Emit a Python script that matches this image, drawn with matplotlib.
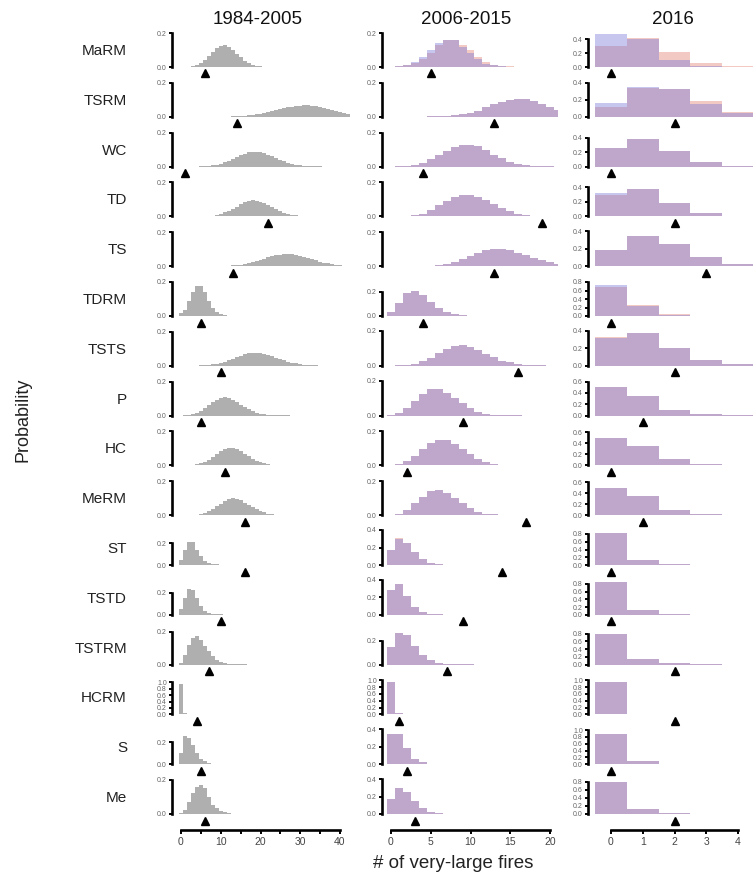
import numpy as np
import matplotlib
matplotlib.use('Agg')
import matplotlib.pyplot as plt

plt.rcParams['font.family'] = ['Liberation Sans', 'DejaVu Sans']

# ---------------- data ----------------
regions = ['MaRM', 'TSRM', 'WC', 'TD', 'TS', 'TDRM', 'TSTS', 'P', 'HC', 'MeRM',
           'ST', 'TSTD', 'TSTRM', 'HCRM', 'S', 'Me']
periods = ['1984-2005', '2006-2015', '2016']

# 1984-2005: first bin of each list, then probabilities per count
start_1984 = [2, 12, 5, 6, 9, 0, 4, 1, 2, 2, 0, 0, 0, 0, 0, 0]
hist_1984 = [
    [.002, .005, .012, .024, .042, .065, .09, .112, .126, .128, .118, .1, .078, .057, .038, .024, .014, .008, .004, .002, .001],
    [.001, .002, .003, .004, .006, .008, .011, .014, .018, .023, .028, .033, .039, .045, .05, .055, .06, .064, .066, .067, .067, .065, .062, .058, .053, .045, .039, .032, .026, .02, .015],
    [.001, .002, .004, .007, .011, .017, .025, .034, .044, .055, .066, .076, .084, .088, .088, .085, .079, .07, .06, .05, .04, .031, .023, .017, .012, .008, .005, .003, .002, .002, .001],
    [.001, .003, .005, .009, .015, .023, .033, .045, .058, .071, .082, .09, .094, .093, .087, .078, .066, .053, .041, .03, .021, .014, .009, .006, .003, .002, .001],
    [.001, .001, .002, .003, .005, .007, .01, .014, .019, .025, .031, .038, .045, .052, .058, .063, .067, .07, .07, .069, .066, .061, .055, .048, .041, .034, .027, .021, .016, .012, .008, .006, .004, .003],
    [.015, .035, .09, .14, .175, .175, .14, .09, .045, .025, .01, .005, .002, .001],
    [.001, .002, .003, .005, .008, .012, .017, .024, .032, .041, .05, .059, .067, .073, .077, .078, .076, .071, .065, .057, .048, .04, .032, .025, .019, .014, .01, .007, .005, .003, .002, .001, .001, .001, .001, .001, .001],
    [.002, .004, .009, .017, .028, .043, .06, .078, .094, .105, .108, .104, .094, .08, .064, .049, .036, .025, .017, .011, .007, .004, .003, .002, .001, .001, .001],
    [.001, .003, .006, .012, .021, .033, .049, .066, .083, .097, .104, .103, .096, .083, .068, .053, .039, .027, .018, .012, .007, .004, .003, .002, .001, .001, .001],
    [.001, .002, .004, .008, .014, .024, .037, .052, .068, .083, .094, .099, .096, .087, .074, .06, .046, .034, .024, .016, .01, .006, .004, .002, .001, .001, .001, .001],
    [.05, .14, .21, .21, .14, .08, .04, .02, .01, .005, .003, .001],
    [.05, .155, .23, .225, .155, .08, .036, .02, .01, .005, .003, .001],
    [.01, .06, .12, .16, .176, .15, .11, .08, .05, .03, .016, .008, .004, .002, .001, .001, .001],
    [.96, .035, .004],
    [.1, .26, .24, .17, .1, .05, .025, .012, .006, .003, .001],
    [.006, .024, .072, .122, .157, .17, .151, .102, .053, .033, .018, .009, .005, .002, .001, .001],
]

# 2006-2015: counts start at 0
hist_2006_blue = [
    [.002, .004, .012, .03, .06, .1, .14, .16, .16, .12, .08, .045, .02, .01, .004, .002, .001],
    [0, 0, 0, 0, .001, .002, .003, .005, .009, .014, .021, .035, .055, .073, .088, .1, .107, .105, .094, .075, .06, .042],
    [0, .002, .004, .012, .024, .045, .07, .094, .114, .125, .13, .12, .095, .07, .048, .028, .015, .008, .004, .002, .001],
    [0, 0, .001, .006, .016, .035, .065, .088, .114, .124, .127, .114, .094, .07, .05, .031, .016, .008, .004, .002, .001],
    [0, 0, 0, 0, .001, .003, .006, .013, .025, .04, .058, .078, .093, .1, .1, .093, .08, .065, .05, .035, .022, .012],
    [.03, .11, .19, .21, .175, .12, .07, .036, .017, .008, .004, .002],
    [0, .002, .004, .008, .025, .044, .072, .097, .114, .12, .11, .091, .069, .048, .03, .019, .011, .006, .003, .002, .001],
    [.004, .015, .042, .086, .124, .15, .15, .128, .099, .07, .042, .023, .011, .006, .003, .002, .001],
    [.002, .008, .025, .055, .095, .13, .15, .15, .125, .095, .065, .04, .022, .011, .005, .002, .001],
    [0, .005, .03, .07, .11, .145, .15, .13, .1, .07, .04, .02, .008, .005, .002, .001],
    [.175, .3, .25, .145, .065, .027, .011, .005, .002],
    [.286, .35, .21, .088, .03, .01, .004, .002],
    [.147, .264, .245, .155, .078, .036, .017, .007, .003, .002, .001],
    [.96, .035, .004],
    [.35, .35, .18, .057, .02, .007, .003, .001],
    [.168, .293, .255, .152, .065, .025, .01, .004, .002, .001],
]
hist_2006_red = [
    [.001, .003, .01, .025, .05, .08, .13, .16, .16, .13, .1, .06, .03, .013, .006, .003, .001],
    [0, 0, 0, 0, .001, .002, .003, .005, .009, .014, .021, .035, .055, .073, .088, .1, .107, .105, .094, .075, .06, .042],
    [0, .002, .004, .012, .024, .045, .07, .094, .114, .125, .13, .12, .095, .07, .048, .028, .015, .008, .004, .002, .001],
    [0, 0, .001, .006, .016, .035, .065, .088, .114, .124, .127, .114, .094, .07, .05, .031, .016, .008, .004, .002, .001],
    [0, 0, 0, 0, .001, .003, .006, .013, .025, .04, .058, .078, .093, .1, .1, .093, .08, .065, .05, .035, .022, .012],
    [.03, .105, .19, .21, .175, .12, .07, .036, .017, .008, .004, .002],
    [0, .002, .004, .008, .025, .044, .072, .097, .114, .12, .11, .091, .069, .048, .03, .019, .011, .006, .003, .002, .001],
    [.004, .015, .042, .086, .124, .15, .15, .128, .099, .07, .042, .023, .011, .006, .003, .002, .001],
    [.002, .008, .025, .055, .095, .13, .15, .15, .125, .095, .065, .04, .022, .011, .005, .002, .001],
    [0, .005, .03, .07, .11, .145, .15, .13, .1, .07, .04, .02, .008, .005, .002, .001],
    [.17, .31, .25, .145, .065, .027, .011, .005, .002],
    [.286, .35, .21, .088, .03, .01, .004, .002],
    [.147, .264, .245, .155, .078, .036, .017, .007, .003, .002, .001],
    [.96, .035, .004],
    [.35, .35, .18, .057, .02, .007, .003, .001],
    [.168, .293, .255, .152, .065, .025, .01, .004, .002, .001],
]

# 2016: counts 0..4
hist_2016_blue = [
    [.476, .4, .105, .014, .002],
    [.157, .353, .33, .149, .047],
    [.253, .382, .211, .06, .01],
    [.32, .382, .189, .046, .008],
    [.19, .343, .255, .103, .027],
    [.73, .235, .03, .005, .001],
    [.32, .373, .198, .069, .019],
    [.51, .353, .1, .025, .005],
    [.5, .35, .12, .025, .005],
    [.5, .35, .1, .02, .003],
    [.817, .13, .02, .003, 0],
    [.835, .13, .02, .003, 0],
    [.8, .155, .03, .004, 0],
    [.96, .01, .002, 0, 0],
    [.9, .088, .01, .002, 0],
    [.81, .133, .02, .005, 0],
]
hist_2016_red = [
    [.3, .41, .214, .057, .01],
    [.118, .333, .33, .188, .059],
    [.253, .382, .211, .06, .01],
    [.3, .382, .189, .046, .008],
    [.19, .343, .255, .103, .027],
    [.69, .26, .045, .005, .001],
    [.33, .373, .198, .069, .019],
    [.51, .353, .1, .025, .005],
    [.5, .35, .12, .025, .005],
    [.5, .35, .1, .02, .003],
    [.817, .13, .02, .003, 0],
    [.835, .13, .02, .003, 0],
    [.8, .155, .03, .004, 0],
    [.96, .01, .002, 0, 0],
    [.9, .088, .01, .002, 0],
    [.81, .133, .02, .005, 0],
]

# observed number of very-large fires (triangles)
obs_1984 = [6, 14, 1, 22, 13, 5, 10, 5, 11, 16, 16, 10, 7, 4, 5, 6]
obs_2006 = [5, 13, 4, 19, 13, 4, 16, 9, 2, 17, 14, 9, 7, 1, 2, 3]
obs_2016 = [0, 2, 0, 2, 3, 0, 2, 1, 0, 1, 0, 0, 2, 2, 0, 2]

# top tick of each y axis
ytop_1984 = [.2] * 13 + [1.0, .2, .2]
ytop_2006 = [.2] * 10 + [.4, .4, .2, 1.0, .4, .4]
ytop_2016 = [.4, .4, .4, .4, .4, .8, .4, .6, .6, .6, .8, .8, .8, 1.0, 1.0, .8]

x_ticks = [list(range(0, 41, 5)), list(range(0, 21, 5)), list(range(0, 5))]
x_ticklabels = [['0', '', '10', '', '20', '', '30', '', '40'],
                ['0', '5', '10', '15', '20'],
                ['0', '1', '2', '3', '4']]

# ---------------- layout (pixels) ----------------
W, H = 753, 882
fig = plt.figure(figsize=(W / 100, H / 100), dpi=100)

col_px0 = [181, 391, 611]        # pixel of x = 0
col_ppu = [3.975, 7.95, 31.75]   # pixels per count
col_left = [172, 382, 588]       # y-spine position
col_right = [350, 558, 753]
row_y0 = [67 + 49.8 * i for i in range(16)]
spine_px = [
    [34] * 10 + [22, 22, 33, 32, 22, 34],
    [34] * 5 + [24, 35, 35, 34, 34, 35, 35, 24, 34, 35, 35],
    [28, 34, 29, 29, 35, 34, 35, 34, 33, 33, 31, 31, 31, 34, 34, 32],
]

GRAY = '#AFAFAF'
RED = '#E27A6A'
BLUE = '#7272D8'
ALPHA = 0.4

ytops = [ytop_1984, ytop_2006, ytop_2016]
obs = [obs_1984, obs_2006, obs_2016]

for c in range(3):
    for r in range(16):
        y0 = row_y0[r]
        top_px, bot_px = y0 - 38, y0 + 16
        ax = fig.add_axes([col_left[c] / W, 1 - bot_px / H,
                           (col_right[c] - col_left[c]) / W, (bot_px - top_px) / H])
        ax.patch.set_alpha(0)
        ytop = ytops[c][r]
        s = spine_px[c][r] / ytop
        ax.set_ylim(-16 / s, 38 / s)
        ax.set_xlim((col_left[c] - col_px0[c]) / col_ppu[c],
                    (col_right[c] - col_px0[c]) / col_ppu[c])

        if c == 0:
            vals = np.array(hist_1984[r])
            edges = np.arange(len(vals) + 1) + start_1984[r] - 0.5
            ax.stairs(vals, edges, fill=True, color=GRAY, linewidth=0)
        else:
            red = np.array((hist_2006_red if c == 1 else hist_2016_red)[r])
            blue = np.array((hist_2006_blue if c == 1 else hist_2016_blue)[r])
            ax.stairs(red, np.arange(len(red) + 1) - 0.5, fill=True,
                      color=RED, alpha=ALPHA, linewidth=0)
            ax.stairs(blue, np.arange(len(blue) + 1) - 0.5, fill=True,
                      color=BLUE, alpha=ALPHA, linewidth=0)

        ax.plot([obs[c][r]], [-6.5 / s], marker='^', color='black',
                markersize=5.8, linestyle='none', clip_on=False)

        for sp in ['top', 'right']:
            ax.spines[sp].set_visible(False)
        ax.spines['left'].set_bounds(0, ytop)
        ax.spines['left'].set_linewidth(1.9)
        yt = np.round(np.arange(0, ytop + 1e-9, 0.2), 1)
        ax.set_yticks(yt)
        ax.set_yticklabels([f'{t:.1f}' for t in yt])
        ax.tick_params(axis='y', length=2.5, width=1.4, pad=1.2,
                       labelsize=5, labelcolor='#666666', color='black')

        if r == 15:
            ax.spines['bottom'].set_bounds(x_ticks[c][0], x_ticks[c][-1])
            ax.spines['bottom'].set_linewidth(1.9)
            ax.set_xticks(x_ticks[c])
            ax.set_xticklabels(x_ticklabels[c])
            ax.tick_params(axis='x', length=3, width=1.4, pad=2,
                           labelsize=7.5, labelcolor='#444444')
        else:
            ax.spines['bottom'].set_visible(False)
            ax.set_xticks([])

# row labels
for r, name in enumerate(regions):
    fig.text(127 / W, 1 - (row_y0[r] - 16) / H, name, ha='right', va='center',
             fontsize=11, color='#222222')

# column titles
for x, t in zip([258, 466, 673], periods):
    fig.text(x / W, 1 - 20 / H, t, ha='center', va='center', fontsize=13.5,
             color='#111111')

fig.text(23 / W, 1 - 420 / H, 'Probability', rotation=90, ha='center',
         va='center', fontsize=13, color='#222222')
fig.text(453 / W, 1 - 864 / H, '# of very-large fires', ha='center',
         va='center', fontsize=13.5, color='#222222')

fig.savefig('out.png', dpi=100)
